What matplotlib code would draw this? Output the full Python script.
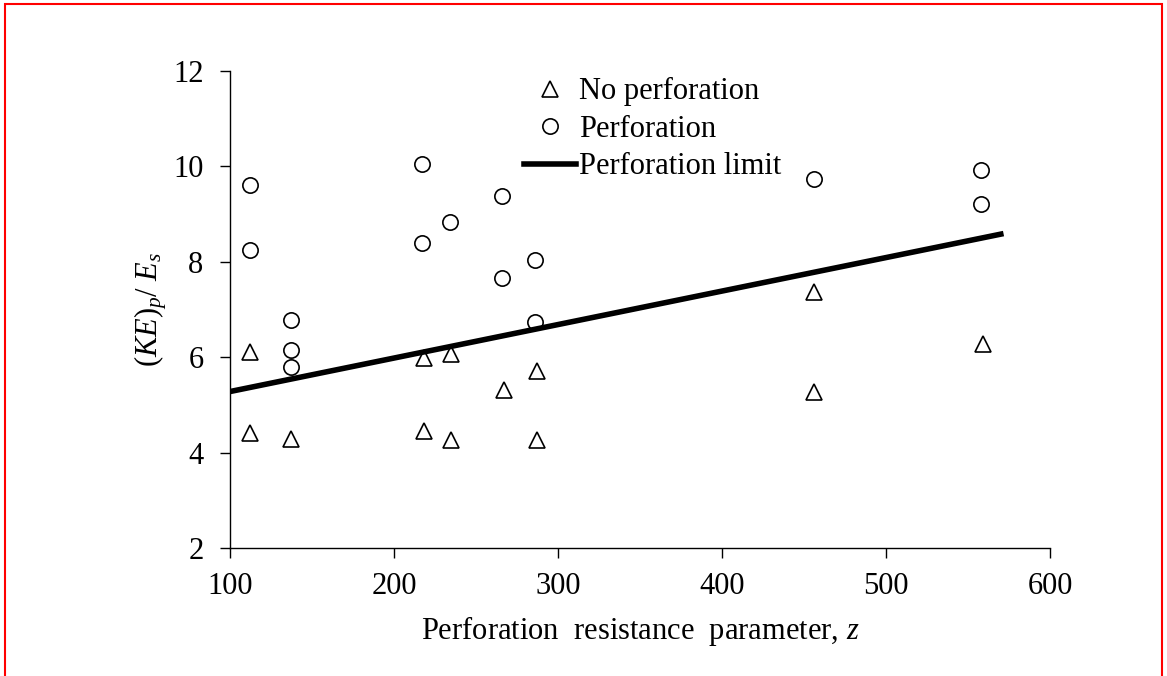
import numpy as np
import matplotlib.pyplot as plt
from matplotlib.patches import Rectangle

plt.rcParams['font.family'] = ['Liberation Serif', 'DejaVu Serif']
plt.rcParams['mathtext.fontset'] = 'custom'
plt.rcParams['mathtext.rm'] = 'Liberation Serif'
plt.rcParams['mathtext.it'] = 'Liberation Serif:italic'

# the data
z_noperf = [112, 112, 137, 218, 218, 235, 235, 267, 287, 287, 456, 456, 559]
ke_noperf = [6.10, 4.41, 4.29, 5.98, 4.45, 6.06, 4.26, 5.32, 5.72, 4.26, 7.36, 5.28, 6.27]

z_perf = [112, 112, 137, 137, 137, 217, 217, 234, 266, 266, 286, 286, 456, 558, 558]
ke_perf = [9.62, 8.25, 6.78, 6.15, 5.80, 10.04, 8.39, 8.83, 9.37, 7.66, 8.04, 6.74, 9.74, 9.93, 9.22]

z_limit = [100, 570]
ke_limit = [5.28, 8.58]

fig = plt.figure(figsize=(11.67, 6.76), dpi=100)
ax = fig.add_axes([230/1167, 1 - 548/676, 820/1167, 477/676])

ax.plot(z_noperf, ke_noperf, linestyle='none', marker='^', markersize=11,
        markerfacecolor='white', markeredgecolor='black', markeredgewidth=1.2,
        label='No perforation', clip_on=False)
ax.plot(z_perf, ke_perf, linestyle='none', marker='o', markersize=11,
        markerfacecolor='white', markeredgecolor='black', markeredgewidth=1.2,
        label='Perforation', clip_on=False)
ax.plot(z_limit, ke_limit, color='black', linewidth=4, label='Perforation limit')

ax.set_xlim(100, 600)
ax.set_ylim(2, 12)
ax.set_xticks(np.arange(100, 601, 100))
ax.set_yticks(np.arange(2, 13, 2))
ax.tick_params(direction='out', length=7, width=1, labelsize=22)
ax.tick_params(axis='y', pad=12)
ax.tick_params(axis='x', pad=10)
for s in ['top', 'right']:
    ax.spines[s].set_visible(False)
for s in ['left', 'bottom']:
    ax.spines[s].set_linewidth(1)

ax.set_xlabel('Perforation  resistance  parameter, $z$', fontsize=22, labelpad=10)
ax.set_ylabel(r'$(KE)_p/\ E_s$', fontsize=22, labelpad=3)

ax.legend(loc='upper left', bbox_to_anchor=(0.34, 1.019), frameon=False, fontsize=22,
          handlelength=1.7, handletextpad=0.1, labelspacing=0.28, borderpad=0)

# red frame around the figure
fig.add_artist(Rectangle((5/1167, -0.05), 1157/1167, 1.05 - 4/676, transform=fig.transFigure,
                         fill=False, edgecolor='red', linewidth=1.5))

plt.savefig('out.png', dpi=100)
